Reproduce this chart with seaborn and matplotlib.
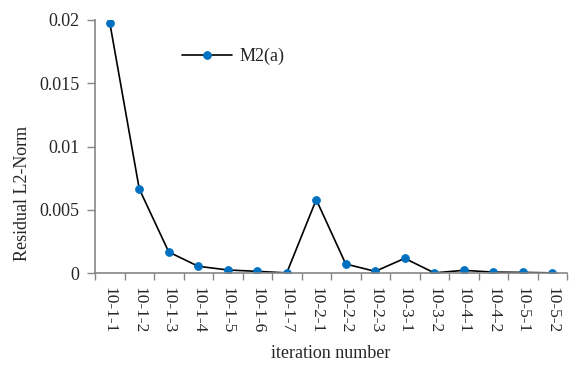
import numpy as np
import pandas as pd
import matplotlib
matplotlib.use('Agg')
import matplotlib.pyplot as plt
import seaborn as sns

# data
iterations = ['10-1-1', '10-1-2', '10-1-3', '10-1-4', '10-1-5', '10-1-6', '10-1-7',
              '10-2-1', '10-2-2', '10-2-3', '10-3-1', '10-3-2', '10-4-1', '10-4-2',
              '10-5-1', '10-5-2']
residual = [0.0198, 0.00665, 0.00166, 0.00053, 0.00024, 0.00013, 0.00001,
            0.0058, 0.00071, 0.00013, 0.00116, 0.00001, 0.00021, 0.00007,
            0.00005, 0.00001]
y_ticks = [0, 0.005, 0.01, 0.015, 0.02]
y_tick_labels = ['0', '0.005', '0.01', '0.015', '0.02']

sns.set_style('white')
plt.rcParams['font.family'] = ['Liberation Serif', 'DejaVu Serif']

FS = 12.5

W, H = 571, 367
fig = plt.figure(figsize=(W / 100, H / 100), dpi=100)
ax = fig.add_axes([95 / W, (H - 273) / H, (567 - 95) / W, (273 - 20) / H])

df = pd.DataFrame({'pos': np.arange(len(iterations)), 'residual': residual})
sns.lineplot(data=df, x='pos', y='residual', ax=ax, color='black', linewidth=1.2,
             marker='o', markersize=5.5, markerfacecolor='#0070C0',
             markeredgecolor='#0070C0', label='M2(a)')

ax.set_xlim(-0.5, len(iterations) - 0.5)
ax.set_ylim(0, 0.02)

# Excel-style ticks: marks at category borders, labels at centres
ax.set_xticks(np.arange(len(iterations) + 1) - 0.5)
ax.set_xticklabels([])
ax.set_xticks(np.arange(len(iterations)), minor=True)
ax.set_xticklabels(iterations, minor=True, rotation=-90, fontsize=FS)
ax.tick_params(axis='x', which='major', length=5, width=1, color='#868686', direction='out', bottom=True)
ax.tick_params(axis='x', which='minor', length=0, pad=10)

ax.set_yticks(y_ticks)
ax.set_yticklabels(y_tick_labels, fontsize=13)
ax.tick_params(axis='y', length=6, width=1, color='#868686', direction='out', left=True, pad=5)

for s in ['top', 'right']:
    ax.spines[s].set_visible(False)
for s in ['left', 'bottom']:
    ax.spines[s].set_color('#868686')
    ax.spines[s].set_linewidth(1.2)

ax.set_xlabel('iteration number', fontsize=13)
ax.xaxis.set_label_coords(0.5, -0.285)
ax.set_ylabel('Residual L2-Norm', fontsize=13)
ax.yaxis.set_label_coords(-0.136, 0.315)

ax.legend(loc='upper left', bbox_to_anchor=(0.184, 0.89), frameon=False, fontsize=13,
          borderpad=0, borderaxespad=0, handlelength=2.8, handletextpad=0.4)

fig.savefig('out.png', dpi=100)
